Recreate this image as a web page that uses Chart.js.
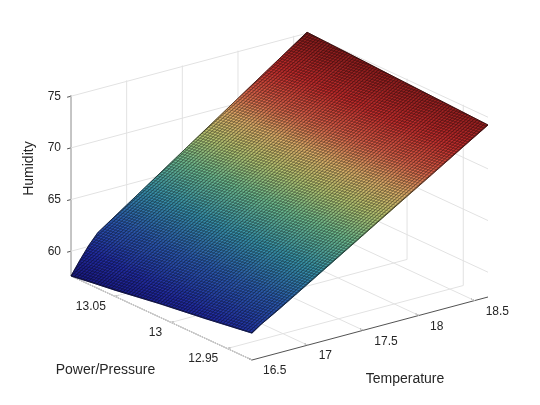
<!DOCTYPE html>
<html>
<head>
<meta charset="utf-8">
<script src="https://cdn.jsdelivr.net/npm/chart.js@4.4.0/dist/chart.umd.min.js"></script>
<style>
    html, body { margin: 0; padding: 0; background: #fff; }
    canvas { display: block; }
</style>
</head>
<body>
<canvas id="surfaceChart" width="540" height="405"></canvas>
<script>
// ---- Data ----
const temperature = [16.5, 16.58, 16.66, 16.74, 16.9, 17.2, 17.5, 17.8, 18.1, 18.4, 18.62];
const pressure = [12.928, 12.97, 13.01, 13.05, 13.07, 13.089];
// one row per pressure value, one column per temperature value
const humidity = [
    [60.2, 60.8, 61.3, 61.8, 62.85, 64.84, 66.83, 68.82, 70.8, 72.8, 74.25],
    [59.5, 60.3, 61.0, 61.6, 62.7, 64.76, 66.82, 68.86, 70.91, 72.97, 74.47],
    [58.9, 59.8, 60.7, 61.4, 62.56, 64.68, 66.8, 68.9, 71.02, 73.14, 74.68],
    [58.2, 59.4, 60.4, 61.3, 62.42, 64.6, 66.79, 68.95, 71.13, 73.3, 74.9],
    [57.9, 59.1, 60.2, 61.2, 62.36, 64.56, 66.78, 68.97, 71.18, 73.38, 75.0],
    [57.6, 58.9, 60.1, 61.1, 62.29, 64.52, 66.76, 68.99, 71.23, 73.46, 75.1]
];
const temperatureTicks = [16.5, 17, 17.5, 18, 18.5];
const pressureTicks = [12.95, 13, 13.05];
const humidityTicks = [60, 65, 70, 75];
const temperatureLimits = [16.5, 18.62];
const pressureLimits = [12.928, 13.089];
const humidityLimits = [57.6, 75.1];

// ---- View (orthographic box, screen units) ----
const view = {
    origin: { x: 252, y: 360 },   // front bottom corner
    temp:   { x: 236, y: -63 },   // whole temperature range
    press:  { x: -181, y: -84 },  // whole pressure range
    hum:    { x: 0, y: -180.8 }   // whole humidity range
};

function norm(val, lim) {
    return (val - lim[0]) / (lim[1] - lim[0]);
}

function project(t, p, h) {
    const u = norm(t, temperatureLimits);
    const v = norm(p, pressureLimits);
    const w = norm(h, humidityLimits);
    return {
        x: view.origin.x + u * view.temp.x + v * view.press.x + w * view.hum.x,
        y: view.origin.y + u * view.temp.y + v * view.press.y + w * view.hum.y
    };
}

const colorStops = [
    [0.00, [25, 25, 128]],
    [0.12, [32, 42, 160]],
    [0.25, [42, 86, 172]],
    [0.38, [55, 145, 168]],
    [0.50, [110, 185, 140]],
    [0.60, [185, 195, 110]],
    [0.68, [220, 172, 104]],
    [0.76, [215, 96, 72]],
    [0.86, [190, 42, 42]],
    [1.00, [130, 26, 26]]
];

function colormap(h) {
    const t = Math.min(1, Math.max(0, norm(h, humidityLimits)));
    for (let k = 1; k < colorStops.length; k++) {
        if (t <= colorStops[k][0]) {
            const [ta, ca] = colorStops[k - 1];
            const [tb, cb] = colorStops[k];
            const f = (t - ta) / (tb - ta);
            return `rgb(${ca.map((c, i) => Math.round(c + (cb[i] - c) * f)).join(',')})`;
        }
    }
    return 'rgb(130,26,26)';
}

// ---- Box, grid and axes as line datasets ----
const datasets = [];
const GRID = '#e2e2e2';
const AXIS = '#262626';

function addLine(a, b, color, width) {
    datasets.push({
        data: [a, b],
        showLine: true,
        borderColor: color,
        borderWidth: width,
        pointRadius: 0,
        fill: false
    });
}

const [t0, t1] = temperatureLimits;
const [p0, p1] = pressureLimits;
const [h0, h1] = humidityLimits;

// back left wall
temperatureTicks.forEach(t => addLine(project(t, p1, h0), project(t, p1, h1), GRID, 1));
humidityTicks.forEach(h => addLine(project(t0, p1, h), project(t1, p1, h), GRID, 1));
// back right wall
pressureTicks.forEach(p => addLine(project(t1, p, h0), project(t1, p, h1), GRID, 1));
humidityTicks.forEach(h => addLine(project(t1, p0, h), project(t1, p1, h), GRID, 1));
// floor
temperatureTicks.forEach(t => addLine(project(t, p0, h0), project(t, p1, h0), GRID, 1));
pressureTicks.forEach(p => addLine(project(t0, p, h0), project(t1, p, h0), GRID, 1));

// axes
addLine(project(t0, p0, h0), project(t1, p0, h0), AXIS, 0.8);
addLine(project(t0, p0, h0), project(t0, p1, h0), AXIS, 0.8);
addLine(project(t0, p1, h0), project(t0, p1, h1), AXIS, 0.8);

temperatureTicks.forEach(t => {
    const a = project(t, p0, h0);
    addLine(a, { x: a.x - 3.6, y: a.y - 1.7 }, AXIS, 0.8);
});
pressureTicks.forEach(p => {
    const a = project(t0, p, h0);
    addLine(a, { x: a.x + 3.9, y: a.y - 1.0 }, AXIS, 0.8);
});
humidityTicks.forEach(h => {
    const a = project(t0, p1, h);
    addLine(a, { x: a.x - 3.9, y: a.y + 1.0 }, AXIS, 0.8);
});

// ---- Surface ----
const surfacePlugin = {
    id: 'surface',
    afterDatasetsDraw(chart) {
        const { ctx, scales: { x, y } } = chart;
        const pts = pressure.map((p, i) => temperature.map((t, j) => {
            const q = project(t, p, humidity[i][j]);
            return { x: x.getPixelForValue(q.x), y: y.getPixelForValue(q.y), h: humidity[i][j] };
        }));
        const rows = pressure.length;
        const cols = temperature.length;

        const cells = [];
        for (let i = 0; i < rows - 1; i++) {
            for (let j = 0; j < cols - 1; j++) {
                const u = norm((temperature[j] + temperature[j + 1]) / 2, temperatureLimits);
                const v = norm((pressure[i] + pressure[i + 1]) / 2, pressureLimits);
                cells.push({ i, j, depth: -u * view.temp.y - v * view.press.y });
            }
        }
        cells.sort((a, b) => b.depth - a.depth);

        ctx.save();
        cells.forEach(({ i, j }) => {
            const c = [pts[i][j], pts[i][j + 1], pts[i + 1][j + 1], pts[i + 1][j]];
            const hs = c.map(q => q.h);
            const hMin = Math.min(...hs);
            const hMax = Math.max(...hs);

            // screen-space gradient of humidity over the cell
            const dx1 = c[1].x - c[0].x, dy1 = c[1].y - c[0].y, dh1 = c[1].h - c[0].h;
            const dx2 = c[3].x - c[0].x, dy2 = c[3].y - c[0].y, dh2 = c[3].h - c[0].h;
            const det = dx1 * dy2 - dx2 * dy1;
            const a = (dh1 * dy2 - dh2 * dy1) / det;
            const b = (dx1 * dh2 - dx2 * dh1) / det;
            const g2 = a * a + b * b;

            let fill;
            if (g2 < 1e-9 || hMax - hMin < 1e-6) {
                fill = colormap((hMin + hMax) / 2);
            } else {
                const sx = c[0].x + (hMin - c[0].h) * a / g2;
                const sy = c[0].y + (hMin - c[0].h) * b / g2;
                const ex = c[0].x + (hMax - c[0].h) * a / g2;
                const ey = c[0].y + (hMax - c[0].h) * b / g2;
                fill = ctx.createLinearGradient(sx, sy, ex, ey);
                for (let k = 0; k <= 4; k++) {
                    fill.addColorStop(k / 4, colormap(hMin + (hMax - hMin) * k / 4));
                }
            }

            ctx.beginPath();
            ctx.moveTo(c[0].x, c[0].y);
            for (let k = 1; k < 4; k++) ctx.lineTo(c[k].x, c[k].y);
            ctx.closePath();
            ctx.fillStyle = fill;
            ctx.strokeStyle = fill;
            ctx.lineWidth = 0.8;
            ctx.fill();
            ctx.stroke();
        });

        // outline of whole surface
        const outline = () => {
            ctx.beginPath();
            ctx.moveTo(pts[0][0].x, pts[0][0].y);
            for (let j = 1; j < cols; j++) ctx.lineTo(pts[0][j].x, pts[0][j].y);
            for (let i = 1; i < rows; i++) ctx.lineTo(pts[i][cols - 1].x, pts[i][cols - 1].y);
            for (let j = cols - 2; j >= 0; j--) ctx.lineTo(pts[rows - 1][j].x, pts[rows - 1][j].y);
            for (let i = rows - 2; i > 0; i--) ctx.lineTo(pts[i][0].x, pts[i][0].y);
            ctx.closePath();
        };

        // dense mesh edges as a texture
        const tile = document.createElement('canvas');
        tile.width = 3;
        tile.height = 3;
        const tc = tile.getContext('2d');
        tc.fillStyle = 'rgba(0,0,0,0.46)';
        tc.fillRect(0, 0, 3, 1);
        tc.fillStyle = 'rgba(0,0,0,0.34)';
        tc.fillRect(0, 1, 1, 2);
        const pattern = ctx.createPattern(tile, 'repeat');
        const e1 = { x: pts[0][cols - 1].x - pts[0][0].x, y: pts[0][cols - 1].y - pts[0][0].y };
        const e2 = { x: pts[rows - 1][0].x - pts[0][0].x, y: pts[rows - 1][0].y - pts[0][0].y };
        const l1 = Math.hypot(e1.x, e1.y);
        const l2 = Math.hypot(e2.x, e2.y);
        pattern.setTransform(new DOMMatrix([e1.x / l1, e1.y / l1, e2.x / l2, e2.y / l2, 0, 0]));

        outline();
        ctx.fillStyle = pattern;
        ctx.fill();
        ctx.strokeStyle = 'rgba(0,0,0,0.65)';
        ctx.lineWidth = 0.9;
        ctx.stroke();
        ctx.restore();
    }
};

// ---- Tick labels and titles ----
const labelPlugin = {
    id: 'axisText',
    afterDraw(chart) {
        const { ctx, scales: { x, y } } = chart;
        const at = q => ({ x: x.getPixelForValue(q.x), y: y.getPixelForValue(q.y) });
        ctx.save();
        ctx.fillStyle = '#262626';
        ctx.font = '12px "Liberation Sans", Arial, sans-serif';
        ctx.textBaseline = 'middle';

        ctx.textAlign = 'right';
        humidityTicks.forEach(h => {
            const q = at(project(t0, p1, h));
            ctx.fillText(String(h), q.x - 10, q.y);
        });
        pressureTicks.forEach(p => {
            const q = at(project(t0, p, h0));
            ctx.fillText(String(p), q.x - 9, q.y + 10);
        });
        ctx.textAlign = 'left';
        temperatureTicks.forEach(t => {
            const q = at(project(t, p0, h0));
            ctx.fillText(String(t), q.x + 11, q.y + 11);
        });

        ctx.font = '14px "Liberation Sans", Arial, sans-serif';
        ctx.textAlign = 'center';
        const pMid = at(project(t0, (p0 + p1) / 2, h0));
        ctx.fillText('Power/Pressure', pMid.x - 56, pMid.y + 52);
        const tMid = at(project((t0 + t1) / 2, p0, h0));
        ctx.fillText('Temperature', tMid.x + 35, tMid.y + 51);
        const hMid = at(project(t0, p1, (h0 + h1) / 2));
        ctx.translate(hMid.x - 42, hMid.y - 17);
        ctx.rotate(-Math.PI / 2);
        ctx.fillText('Humidity', 0, 0);
        ctx.restore();
    }
};

new Chart(document.getElementById('surfaceChart'), {
    type: 'scatter',
    data: { datasets },
    options: {
        responsive: false,
        animation: false,
        layout: { padding: 0 },
        plugins: {
            legend: { display: false },
            tooltip: { enabled: false }
        },
        scales: {
            x: { type: 'linear', min: 0, max: 540, display: false },
            y: { type: 'linear', min: 0, max: 405, reverse: true, display: false }
        }
    },
    plugins: [surfacePlugin, labelPlugin]
});
</script>
</body>
</html>
